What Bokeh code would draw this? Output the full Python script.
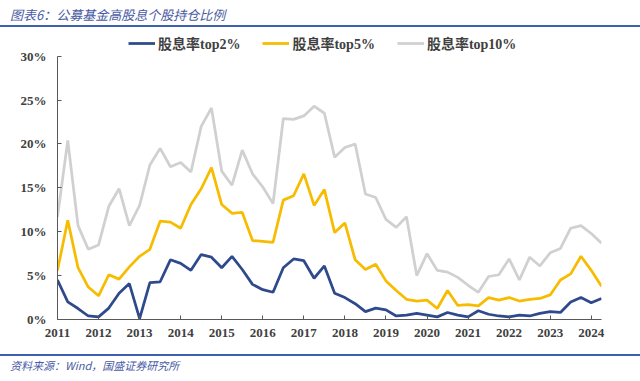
from bokeh.plotting import figure
from bokeh.models import (Range1d, FixedTicker, PrintfTickFormatter, Legend, LegendItem, Div)
from bokeh.layouts import column
from bokeh.embed import file_html
from bokeh.resources import INLINE

# ---------------- data ----------------
years = list(range(2011, 2025))
year_labels = [str(y) for y in years]
y_ticks = [0, 5, 10, 15, 20, 25, 30]

top2 = [4.5, 2.0, 1.25, 0.4, 0.3, 1.3, 3.0, 4.1, 0.1, 4.2,
        4.3, 6.8, 6.4, 5.6, 7.4, 7.1, 5.9, 7.2, 5.7, 4.0,
        3.4, 3.1, 5.9, 6.9, 6.7, 4.7, 6.1, 3.0, 2.5, 1.8,
        0.9, 1.3, 1.1, 0.4, 0.5, 0.7, 0.5, 0.3, 0.8, 0.5,
        0.3, 1.0, 0.6, 0.4, 0.3, 0.5, 0.4, 0.7, 0.9, 0.8,
        2.0, 2.5, 1.9, 2.4]
top5 = [5.6, 11.3, 5.9, 3.7, 2.7, 5.1, 4.6, 6.0, 7.2, 8.0,
        11.2, 11.1, 10.4, 13.1, 14.9, 17.3, 13.1, 12.1, 12.2, 9.0,
        8.9, 8.8, 13.6, 14.1, 16.6, 13.0, 14.8, 9.9, 11.0, 6.8,
        5.7, 6.3, 4.4, 3.3, 2.3, 2.1, 2.2, 1.25, 3.3, 1.6,
        1.7, 1.55, 2.5, 2.2, 2.5, 2.1, 2.3, 2.4, 2.8, 4.5,
        5.2, 7.2, 5.6, 3.8]
top10 = [11.7, 20.4, 10.7, 8.0, 8.5, 12.9, 14.9, 10.7, 13.0, 17.6,
         19.5, 17.4, 17.9, 16.8, 22.0, 24.1, 16.9, 15.3, 19.3, 16.6,
         15.1, 13.2, 22.9, 22.8, 23.2, 24.3, 23.5, 18.5, 19.6, 20.0,
         14.3, 13.9, 11.4, 10.5, 11.7, 5.0, 7.5, 5.6, 5.4, 4.8,
         3.9, 3.1, 4.9, 5.1, 6.9, 4.5, 7.1, 6.1, 7.6, 8.1,
         10.4, 10.7, 9.8, 8.7]
# quarterly observations starting at the 2011 tick
quarters = [2011 + i / 4 for i in range(len(top2))]

series_names = ["股息率top2%", "股息率top5%", "股息率top10%"]
title_text = "图表6：公募基金高股息个股持仓比例"
source_text = "资料来源：Wind，国盛证券研究所"

# ---------------- styles ----------------
W = 640
HEAD_H, PLOT_H, FOOT_H = 30, 318, 33
BL, BR, BB = 57, 39, 29               # borders of the main plot (top border 0)
FH = PLOT_H - BB                      # frame height (frame starts at top of plot)
PX_30 = 263.3                         # pixel height of 0..30% on the axis
Y_TOP = 30 * FH / PX_30               # range top so that 30% sits where the reference puts it
rule_color = "#3F5FAF"
note_color = "#4A5BA5"
axis_font = "Liberation Serif"
legend_font = "Liberation Serif, Noto Sans CJK SC"
colors = ["#2E4A8C", "#F7BC00", "#D0D0D0"]

p = figure(width=W, height=PLOT_H, x_range=Range1d(2011, 2024.25), y_range=Range1d(0, Y_TOP),
           output_backend="svg", toolbar_location=None,
           min_border_left=BL, min_border_right=BR, min_border_top=0, min_border_bottom=BB)
p.xgrid.visible = False
p.ygrid.visible = False
p.outline_line_color = None

renderers = []
for vals, c in zip([top2, top5, top10], colors):
    renderers.append(p.line(quarters, vals, line_color=c, line_width=2.75))

p.xaxis.ticker = FixedTicker(ticks=years)
p.xaxis.major_label_overrides = {y: lab for y, lab in zip(years, year_labels)}
p.yaxis.ticker = FixedTicker(ticks=y_ticks)
p.yaxis.formatter = PrintfTickFormatter(format="%d%%")
p.yaxis.bounds = (0, 30)
for ax in (p.xaxis[0], p.yaxis[0]):
    ax.axis_line_color = "#595959"
    ax.axis_line_width = 1
    ax.major_tick_line_color = "#595959"
    ax.major_tick_in = 4
    ax.major_tick_out = 0
    ax.minor_tick_line_color = None
    ax.major_label_text_font = axis_font
    ax.major_label_text_font_style = "bold"
    ax.major_label_text_font_size = "13px"
    ax.major_label_text_color = "#404040"
p.xaxis.major_label_standoff = 9
p.yaxis.major_label_standoff = 11

# legend: offsets from the frame's bottom-left to the legend's bottom-left
legend = Legend(items=[LegendItem(label=n, renderers=[r]) for n, r in zip(series_names, renderers)],
                orientation="horizontal", location=(128 - BL, FH - (53 - HEAD_H)),
                glyph_width=27, glyph_height=20, label_height=20, label_standoff=3, spacing=22,
                padding=0, margin=0, border_line_color=None, background_fill_alpha=0,
                label_text_font=legend_font, label_text_font_style="bold",
                label_text_font_size="14px", label_text_color="#404040")
p.add_layout(legend)

head_html = (
    f'<div style="position:relative;width:{W}px;height:{HEAD_H}px;margin:0;padding:0;">'
    f'<span style="position:absolute;left:10px;top:5px;font-family:\'Noto Sans CJK SC\';'
    f'font-style:italic;font-size:13px;line-height:19px;color:{note_color};white-space:nowrap;">'
    f'{title_text}</span>'
    f'<div style="position:absolute;left:0;top:24.5px;width:{W}px;height:2px;background:{rule_color};"></div>'
    f'</div>')
foot_html = (
    f'<div style="position:relative;width:{W}px;height:{FOOT_H}px;margin:0;padding:0;">'
    f'<div style="position:absolute;left:0;top:5.5px;width:{W}px;height:2px;background:{rule_color};"></div>'
    f'<span style="position:absolute;left:10px;top:8px;font-family:\'Noto Sans CJK SC\';'
    f'font-style:italic;font-size:11px;line-height:18px;color:{note_color};white-space:nowrap;">'
    f'{source_text}</span>'
    f'</div>')

head = Div(text=head_html, width=W, height=HEAD_H, margin=0)
foot = Div(text=foot_html, width=W, height=FOOT_H, margin=0)

layout = column(head, p, foot, spacing=0)
open("out.html", "w").write(file_html(layout, INLINE))
